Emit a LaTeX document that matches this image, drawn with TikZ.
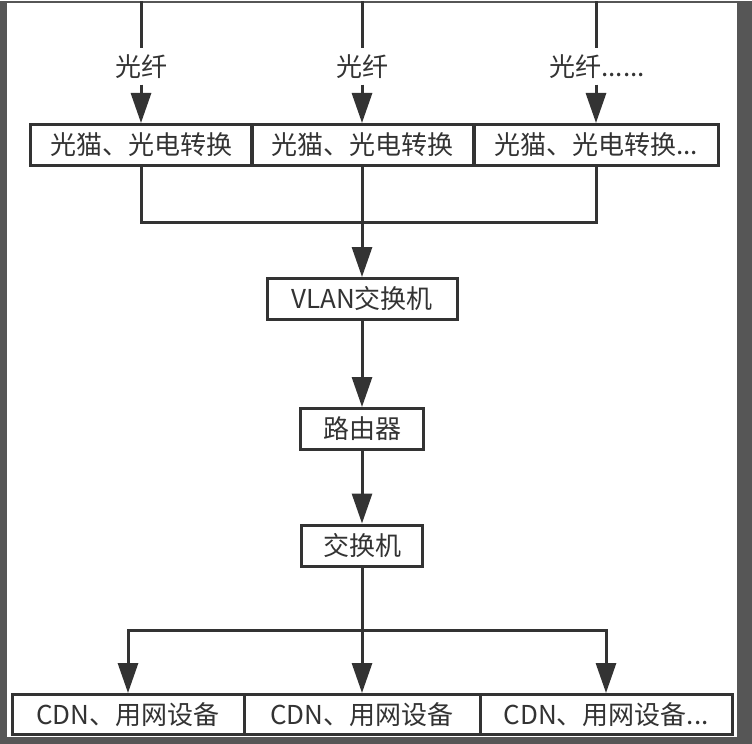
\documentclass[tikz,border=0pt]{standalone}
\usepackage{fontspec}
\setmainfont{Noto Sans CJK SC}
\usetikzlibrary{arrows.meta}
\definecolor{ink}{HTML}{333333}
\definecolor{frame}{HTML}{565656}

\begin{document}
\begin{tikzpicture}[x=1pt,y=-1pt,
    font=\fontsize{26}{30}\selectfont, text=ink,
    box/.style={draw=ink,line width=3pt,inner sep=0pt,minimum height=41pt},
    link/.style={draw=ink,line width=3pt},
    feed/.style={link,-{Triangle[length=30pt,width=20pt]}},
    fiber/.style={inner sep=0pt,minimum height=36pt}]
  % screenshot frame round the white sheet
  \fill[frame] (0,0) rectangle (752,742);
  \fill[white] (7,2) rectangle (737,735);

  % fibre lines coming in from the top
  \coordinate (in1) at (141,0);
  \coordinate (in2) at (362,0);
  \coordinate (in3) at (596,0);
  \node[fiber] (fib1) at (141,65) {光纤};
  \node[fiber] (fib2) at (362,65) {光纤};
  \node[fiber] (fib3) at (597,65) {光纤......};

  % optical modems, side by side
  \node[box,minimum width=222pt] (onu1) at (141,143.5) {光猫、光电转换};
  \node[box,minimum width=222pt] (onu2) at (362,143.5) {光猫、光电转换};
  \node[box,minimum width=244pt] (onu3) at (596,143.5) {光猫、光电转换...};

  % core chain
  \coordinate (join) at (362,221);
  \node[box,minimum width=190pt] (vlan) at (362,297.5) {VLAN交换机};
  \node[box,minimum width=123pt] (router) at (362,427.5) {路由器};
  \node[box,minimum width=121pt] (switch) at (362,544) {交换机};
  \coordinate (split) at (362,629);

  % end devices
  \node[box,minimum width=232pt,minimum height=40pt] (dev1) at (128,713) {CDN、用网设备};
  \node[box,minimum width=236pt,minimum height=40pt] (dev2) at (362,713) {CDN、用网设备};
  \node[box,minimum width=252pt,minimum height=40pt] (dev3) at (606,713) {CDN、用网设备...};

  % fibre into modems
  \draw[link] (in1) -- (fib1);
  \draw[link] (in2) -- (fib2);
  \draw[link] (in3) -- (in3 |- fib3.north);
  \draw[feed] (fib1) -- (onu1);
  \draw[feed] (fib2) -- (onu2);
  \draw[feed] (in3 |- fib3.south) -- (onu3);

  % modems merge into the VLAN switch
  \draw[link] (onu1) |- (join) -| (onu3);
  \draw[link] (onu2) -- (join);
  \draw[feed] (join) -- (vlan);
  \draw[feed] (vlan) -- (router);
  \draw[feed] (router) -- (switch);

  % switch fans out to devices
  \draw[feed] (switch) -- (dev2);
  \draw[feed] (split) -| (dev1);
  \draw[feed] (split) -| (dev3);
\end{tikzpicture}
\end{document}
